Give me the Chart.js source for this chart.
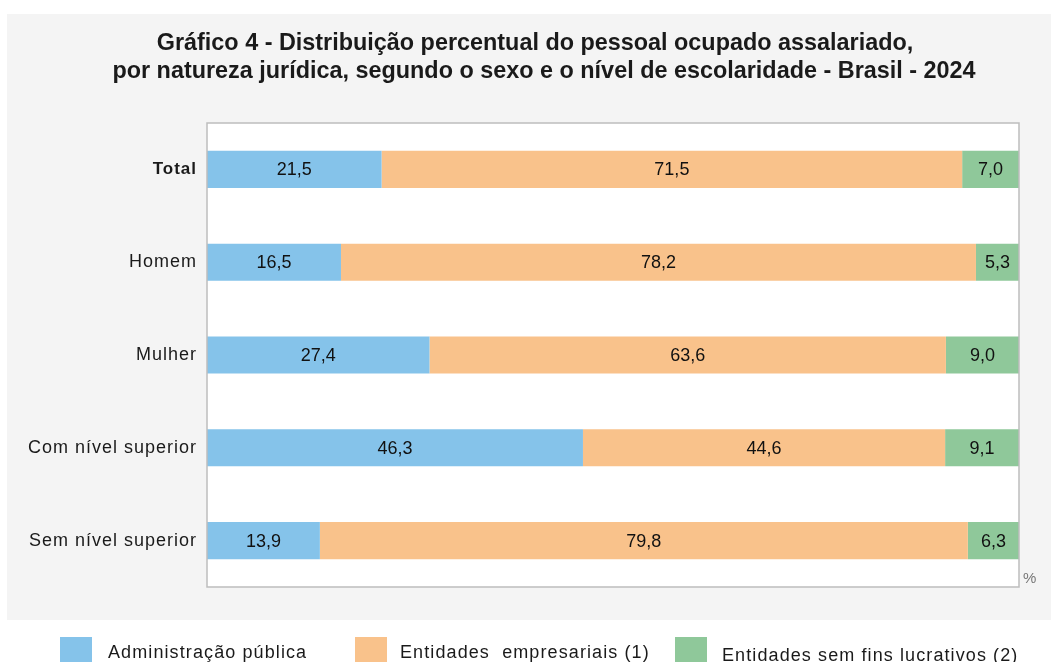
<!DOCTYPE html>
<html>
<head>
<meta charset="utf-8">
<script src="https://cdn.jsdelivr.net/npm/chart.js@4/dist/chart.umd.min.js"></script>
<style>
html,body{margin:0;padding:0;background:#ffffff;}
#wrap{width:1051px;height:662px;position:relative;}
</style>
</head>
<body>
<div id="wrap"><canvas id="c" width="1051" height="662"></canvas></div>
<script>
const titleLines = [
  "Gráfico 4 - Distribuição percentual do pessoal ocupado assalariado,",
  "por natureza jurídica, segundo o sexo e o nível de escolaridade - Brasil - 2024"
];
const categories = ["Total", "Homem", "Mulher", "Com nível superior", "Sem nível superior"];
const seriesNames = ["Administração pública", "Entidades  empresariais (1)", "Entidades sem fins lucrativos (2)"];
const adminPublica = [21.5, 16.5, 27.4, 46.3, 13.9];
const entEmpresariais = [71.5, 78.2, 63.6, 44.6, 79.8];
const entSemFins = [7.0, 5.3, 9.0, 9.1, 6.3];
const seriesColors = ["#85c3ea", "#f9c28b", "#8fc89a"];
const unitLabel = "%";

const FONT = "'Liberation Sans', Arial, sans-serif";

const decor = {
  id: 'decor',
  beforeDraw(chart) {
    const ctx = chart.ctx;
    const a = chart.chartArea;
    ctx.save();
    ctx.fillStyle = '#ffffff';
    ctx.fillRect(0, 0, chart.width, chart.height);
    ctx.fillStyle = '#f4f4f4';
    ctx.fillRect(7, 14, chart.width - 7, 606);
    ctx.fillStyle = '#ffffff';
    ctx.fillRect(a.left, a.top, a.right - a.left, a.bottom - a.top);
    // title
    ctx.fillStyle = '#1a1a1a';
    ctx.font = "bold 23.4px " + FONT;
    ctx.textAlign = 'center';
    ctx.textBaseline = 'middle';
    ctx.fillText(titleLines[0], 535, 44);
    ctx.fillText(titleLines[1], 544, 72);
    ctx.restore();
  },
  beforeDatasetsDraw(chart) {
    chart.ctx.letterSpacing = '0px';
  },
  afterDatasetsDraw(chart) {
    const ctx = chart.ctx;
    const a = chart.chartArea;
    ctx.save();
    ctx.letterSpacing = '0px';
    // data labels
    ctx.fillStyle = '#111111';
    ctx.font = "18px " + FONT;
    ctx.textAlign = 'center';
    ctx.textBaseline = 'middle';
    chart.data.datasets.forEach((ds, di) => {
      const meta = chart.getDatasetMeta(di);
      meta.data.forEach((bar, i) => {
        const p = bar.getProps(['x', 'base', 'y'], true);
        const cx = (p.x + p.base) / 2;
        ctx.fillText(ds.data[i].toFixed(1).replace('.', ','), cx, p.y + 1);
      });
    });
    // border
    ctx.strokeStyle = '#bdbdbd';
    ctx.lineWidth = 1.5;
    ctx.strokeRect(a.left, a.top, a.right - a.left, a.bottom - a.top);
    // unit
    ctx.fillStyle = '#777777';
    ctx.font = "15px " + FONT;
    ctx.textAlign = 'left';
    ctx.fillText(unitLabel, a.right + 4, a.bottom - 8);
    // legend
    const boxX = [60, 355, 675];
    const textX = [108, 400, 722];
    const textY = [653, 653, 656];
    ctx.font = "18px " + FONT;
    ctx.letterSpacing = '1.1px';
    ctx.textBaseline = 'middle';
    for (let k = 0; k < 3; k++) {
      ctx.fillStyle = seriesColors[k];
      ctx.fillRect(boxX[k], 637, 32, 25);
      ctx.fillStyle = '#1a1a1a';
      ctx.fillText(seriesNames[k], textX[k], textY[k]);
    }
    ctx.restore();
  }
};

const tickSpacing = {
  id: 'tickSpacing',
  beforeDraw(chart) {
    chart.ctx.letterSpacing = '1px';
  }
};

new Chart(document.getElementById('c'), {
  type: 'bar',
  data: {
    labels: categories,
    datasets: [
      { label: seriesNames[0], data: adminPublica, backgroundColor: seriesColors[0] },
      { label: seriesNames[1], data: entEmpresariais, backgroundColor: seriesColors[1] },
      { label: seriesNames[2], data: entSemFins, backgroundColor: seriesColors[2] }
    ]
  },
  options: {
    indexAxis: 'y',
    responsive: false,
    animation: false,
    devicePixelRatio: 1,
    layout: { padding: { left: 0, top: 123, right: 32, bottom: 75 } },
    datasets: { bar: { barPercentage: 0.4, categoryPercentage: 1.0, borderWidth: 0 } },
    plugins: { legend: { display: false }, title: { display: false }, tooltip: { enabled: false } },
    scales: {
      x: { stacked: true, min: 0, max: 100, display: false },
      y: {
        stacked: true,
        grid: { display: false, drawTicks: false },
        border: { display: false },
        afterFit(scale) { scale.width = 207; },
        ticks: {
          color: '#1a1a1a',
          padding: 10,
          font: (c) => ({ family: FONT, size: c.index === 0 ? 17 : 18, weight: c.index === 0 ? 'bold' : 'normal' })
        }
      }
    }
  },
  plugins: [decor, tickSpacing]
});
</script>
</body>
</html>
